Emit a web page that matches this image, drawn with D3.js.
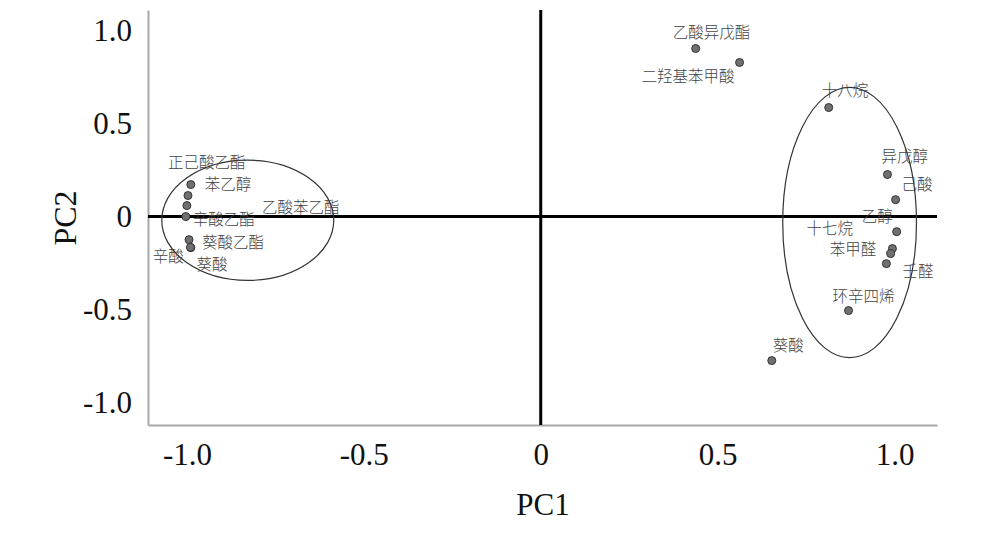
<!DOCTYPE html>
<html><head><meta charset="utf-8">
<script src="https://cdn.jsdelivr.net/npm/d3@7/dist/d3.min.js"></script>
<style>body{margin:0;background:#fff}</style>
</head><body>
<script>
// ---- data ----
const names = ["正己酸乙酯","苯乙醇","乙酸苯乙酯","辛酸乙酯","葵酸乙酯","辛酸","葵酸",
  "乙酸异戊酯","二羟基苯甲酸",
  "十八烷","异戊醇","己酸","乙醇","十七烷","苯甲醛","壬醛","环辛四烯","葵酸"];
const pc1 = [-0.997,-0.989,-1.000,-1.003,-0.994,-0.989,-0.990,
  0.438,0.562,
  0.814,0.980,1.003,1.006,0.994,0.989,0.977,0.870,0.653];
const pc2 = [0.113,0.172,0.059,0.000,-0.124,-0.167,-0.165,
  0.903,0.828,
  0.586,0.226,0.091,-0.081,-0.172,-0.199,-0.253,-0.505,-0.774];
// label offsets from the point (px)
const labelDx = [-20,14,75,7,13,-38,6, -23,-98, -7,-6,6,-35,-86,-61,16,-16,1];
const labelDy = [-33,0,2,3,3,9,17, -16,14, -17,-18,-15,-15,-20,-4,8,-14,-15];
// group ellipses (centre, radii in data units)
const ellCx = [-0.828, 0.873];
const ellCy = [-0.02, -0.032];
const ellRx = [0.243, 0.189];
const ellRy = [0.323, 0.726];
const xTicks = [-1,-0.5,0,0.5,1];
const xTickLabels = ["-1.0","-0.5","0","0.5","1.0"];
const yTicks = [-1,-0.5,0,0.5,1];
const yTickLabels = ["-1.0","-0.5","0","0.5","1.0"];

// ---- chart ----
const W=984,H=536;
const svg=d3.select("body").append("svg").attr("width",W).attr("height",H);
const x=d3.scaleLinear().domain([-1.11,1.12]).range([148,937]);
const y=d3.scaleLinear().domain([-1.12,1.11]).range([425,10]);
const serif='"Liberation Serif","Times New Roman",serif';
const cjk='"Noto Sans CJK SC",sans-serif';

const xa=svg.append("g").attr("transform","translate(0,425)")
  .call(d3.axisBottom(x).tickValues(xTicks).tickFormat((d,i)=>xTickLabels[i]).tickSize(0).tickPadding(18));
const ya=svg.append("g").attr("transform","translate(148,0)")
  .call(d3.axisLeft(y).tickValues(yTicks).tickFormat((d,i)=>yTickLabels[i]).tickSize(0).tickPadding(16));
[xa,ya].forEach(g=>{
  g.select(".domain").attr("stroke","#a8a8a8").attr("stroke-width",2);
  g.selectAll("text").attr("font-family",serif).attr("font-size",31).attr("fill","#111");
});

// zero lines
svg.append("line").attr("x1",x.range()[0]).attr("x2",x.range()[1]).attr("y1",y(0)).attr("y2",y(0))
  .attr("stroke","#000").attr("stroke-width",3);
svg.append("line").attr("x1",x(0)).attr("x2",x(0)).attr("y1",y.range()[0]).attr("y2",y.range()[1])
  .attr("stroke","#000").attr("stroke-width",3);

// ellipses
svg.selectAll("ellipse").data(ellCx).join("ellipse")
  .attr("cx",d=>x(d)).attr("cy",(d,i)=>y(ellCy[i]))
  .attr("rx",(d,i)=>x(ellRx[i])-x(0)).attr("ry",(d,i)=>y(0)-y(ellRy[i]))
  .attr("fill","none").attr("stroke","#333").attr("stroke-width",1.2);

// labels
svg.selectAll("text.lab").data(names).join("text").attr("class","lab")
  .attr("x",(d,i)=>x(pc1[i])+labelDx[i]).attr("y",(d,i)=>y(pc2[i])+labelDy[i])
  .attr("dy","0.36em").attr("font-family",cjk).attr("font-size",15.5).attr("font-weight",300).attr("fill","#444")
  .text(d=>d);

// points
svg.selectAll("circle").data(pc1).join("circle")
  .attr("cx",d=>x(d)).attr("cy",(d,i)=>y(pc2[i])).attr("r",4)
  .attr("fill","#707070").attr("stroke","#333").attr("stroke-width",1);

// axis titles
svg.append("text").attr("x",543).attr("y",515).attr("text-anchor","middle")
  .attr("font-family",serif).attr("font-size",31).attr("fill","#111").text("PC1");
svg.append("text").attr("transform","translate(76,218) rotate(-90)").attr("text-anchor","middle")
  .attr("font-family",serif).attr("font-size",32).attr("fill","#111").text("PC2");
</script>
</body></html>
